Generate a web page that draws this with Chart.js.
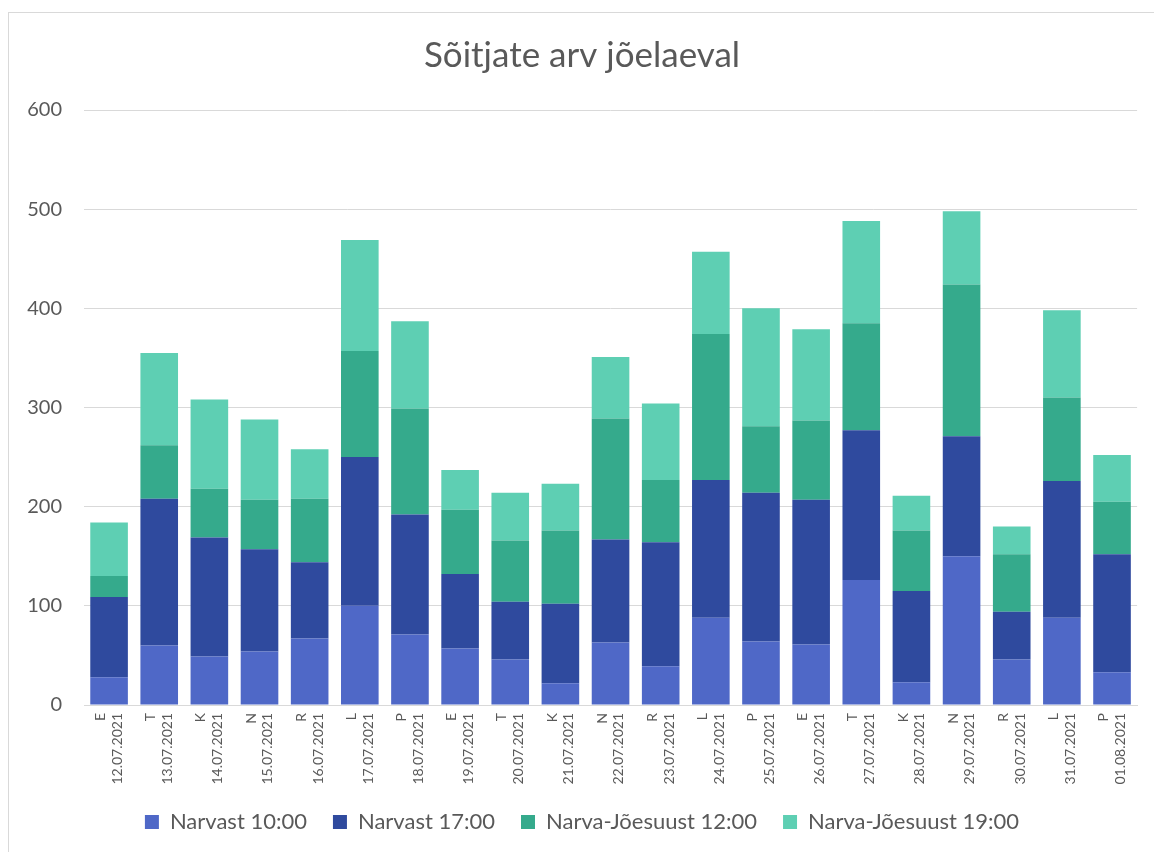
<!DOCTYPE html>
<html>
<head>
<meta charset="utf-8">
<script src="https://cdn.jsdelivr.net/npm/chart.js@4"></script>
<style>
    body { margin: 0; background: #fff; }
    .wrap { position: relative; width: 1154px; height: 852px; overflow: hidden; }
    .frame {
        position: absolute; left: 8px; top: 12px; right: -10px; bottom: -10px;
        border: 1.5px solid #d9d9d9; pointer-events: none;
    }
    canvas { position: absolute; left: 0; top: 0; }
</style>
</head>
<body>
<div class="wrap">
    <canvas id="chart" width="1154" height="852"></canvas>
    <div class="frame"></div>
</div>
<script>
// Data
const days = ["E", "T", "K", "N", "R", "L", "P", "E", "T", "K", "N", "R", "L", "P", "E", "T", "K", "N", "R", "L", "P"];
const dates = [
    "12.07.2021", "13.07.2021", "14.07.2021", "15.07.2021", "16.07.2021", "17.07.2021", "18.07.2021",
    "19.07.2021", "20.07.2021", "21.07.2021", "22.07.2021", "23.07.2021", "24.07.2021", "25.07.2021",
    "26.07.2021", "27.07.2021", "28.07.2021", "29.07.2021", "30.07.2021", "31.07.2021", "01.08.2021"
];

const narvast10 = [28, 60, 49, 54, 67, 100, 71, 57, 46, 22, 63, 39, 88, 64, 61, 126, 23, 150, 46, 88, 33];
const narvast17 = [81, 148, 120, 103, 77, 150, 121, 75, 58, 80, 104, 125, 139, 150, 146, 151, 92, 121, 48, 138, 119];
const joesuust12 = [21, 54, 49, 50, 64, 107, 107, 65, 62, 74, 122, 63, 147, 67, 80, 108, 61, 153, 58, 84, 53];
const joesuust19 = [54, 93, 90, 81, 50, 112, 88, 40, 48, 47, 62, 77, 83, 119, 92, 103, 35, 74, 28, 88, 47];

const yTicks = [0, 100, 200, 300, 400, 500, 600];

const textColour = "#595959";
const gridColour = "#d9d9d9";
const fontFamily = "Lato, 'Open Sans', sans-serif";

const labels = days.map((d, i) => [d, dates[i]]);

new Chart(document.getElementById("chart"), {
    type: "bar",
    data: {
        labels: labels,
        datasets: [
            { label: "Narvast 10:00", data: narvast10, backgroundColor: "#4f68c7" },
            { label: "Narvast 17:00", data: narvast17, backgroundColor: "#2f4a9e" },
            { label: "Narva-Jõesuust 12:00", data: joesuust12, backgroundColor: "#35aa8c" },
            { label: "Narva-Jõesuust 19:00", data: joesuust19, backgroundColor: "#5ecfb3" }
        ]
    },
    options: {
        responsive: false,
        animation: false,
        categoryPercentage: 0.75,
        barPercentage: 1,
        layout: { padding: { top: 12, left: 26, right: 16, bottom: 9 } },
        plugins: {
            title: {
                display: true,
                text: "Sõitjate arv jõelaeval",
                color: textColour,
                font: { family: fontFamily, size: 35, weight: "normal" },
                padding: { top: 23, bottom: 33 }
            },
            legend: {
                position: "bottom",
                labels: {
                    color: textColour,
                    font: { family: fontFamily, size: 22 },
                    boxWidth: 14,
                    boxHeight: 14,
                    padding: 26
                }
            },
            tooltip: { enabled: false }
        },
        scales: {
            x: {
                stacked: true,
                afterFit: axis => { axis.height = 80; },
                grid: { display: false, drawTicks: false },
                border: { color: gridColour },
                ticks: {
                    color: textColour,
                    font: { family: fontFamily, size: 14, lineHeight: 1.2 },
                    minRotation: 90,
                    maxRotation: 90,
                    autoSkip: false,
                    padding: 8,
                    labelOffset: -8.4
                }
            },
            y: {
                stacked: true,
                min: yTicks[0],
                max: yTicks[yTicks.length - 1],
                afterBuildTicks: axis => { axis.ticks = yTicks.map(v => ({ value: v })); },
                afterFit: axis => { axis.width = 58; },
                grid: { color: gridColour, drawTicks: false },
                border: { display: false },
                ticks: {
                    color: textColour,
                    font: { family: fontFamily, size: 20 },
                    padding: 22
                }
            }
        }
    }
});
</script>
</body>
</html>
